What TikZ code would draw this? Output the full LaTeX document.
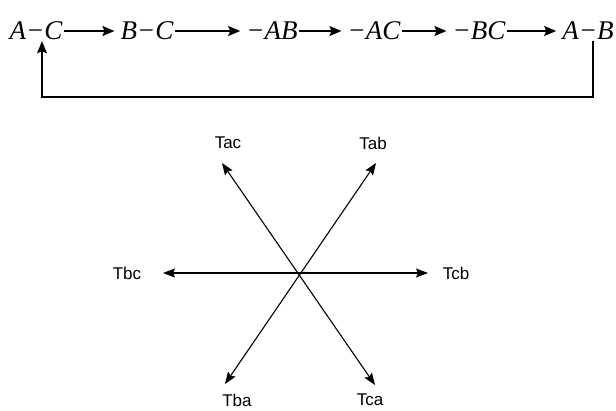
\documentclass[tikz,border=0pt]{standalone}
\usepackage{fontspec}
\setmainfont{Liberation Serif}
\newfontfamily\labelfont{Liberation Sans}
\usetikzlibrary{arrows.meta,positioning,calc}
\tikzset{
  seqterm/.style={inner sep=1pt, font=\fontsize{27}{30}\selectfont\itshape},
  seqarrow/.style={-{Stealth[length=12pt,width=10pt,inset=2pt]}, line width=1.4pt},
  torque/.style={inner sep=1pt, font=\labelfont\fontsize{17}{19}\selectfont},
  torquearrow/.style={{Stealth[length=12pt,width=9pt,inset=2pt]}-{Stealth[length=12pt,width=9pt,inset=2pt]}, line width=1.1pt}
}
\begin{document}
\begin{tikzpicture}[x=1pt,y=-1pt]
  \useasboundingbox (0,0) rectangle (616,410);

  \node[seqterm] (ac)  at (36,31)  {A−C};
  \node[seqterm] (bc)  at (147,31) {B−C};
  \node[seqterm] (nab) at (272,31) {−AB};
  \node[seqterm] (nac) at (374,31) {−AC};
  \node[seqterm] (nbc) at (479,31) {−BC};
  \node[seqterm] (ab)  at (588,31) {A−B};

  \draw[seqarrow, shorten >=5pt] (ac) -- (bc);
  \draw[seqarrow, shorten >=5pt] (bc) -- (nab);
  \draw[seqarrow, shorten >=5pt] (nab) -- (nac);
  \draw[seqarrow, shorten >=5pt] (nac) -- (nbc);
  \draw[seqarrow, shorten >=5pt] (nbc) -- (ab);

  % back to the start
  \coordinate (loop) at (0,97);
  \draw[seqarrow] ([xshift=5pt]ab.south) -- ([xshift=5pt]ab.south |- loop) -| ([xshift=6pt]ac.south);

  % star
  \coordinate (ctr) at (298,273);
  \coordinate (pac) at (222,163);
  \coordinate (pab) at (376,163);
  \coordinate (pba) at (225,384);
  \coordinate (pca) at (375,385);
  \coordinate (pbc) at (163,273);
  \coordinate (pcb) at (428,273);

  \draw[torquearrow] (pbc) -- (pcb);
  \draw[torquearrow] (pac) -- (pca);
  \draw[torquearrow] (pab) -- (pba);

  \node[torque] (tac) at (228,143) {Tac};
  \node[torque] (tab) at (373,143) {Tab};
  \node[torque] (tba) at (237,400) {Tba};
  \node[torque] (tca) at (370,400) {Tca};
  \node[torque] (tbc) at (127,273) {Tbc};
  \node[torque] (tcb) at (456,273) {Tcb};
\end{tikzpicture}
\end{document}
